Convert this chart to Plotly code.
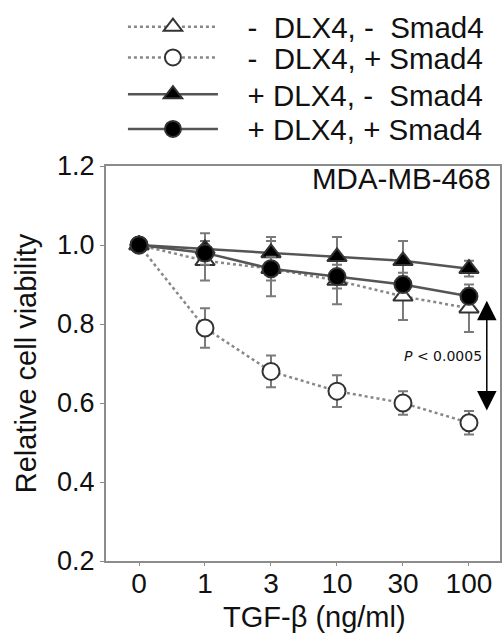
import plotly.graph_objects as go

doses = ["0", "1", "3", "10", "30", "100"]
pad = "\u00a0" * 3
sp2 = "\u00a0\u00a0"
names = [pad + "-" + sp2 + "DLX4, -" + sp2 + "Smad4", pad + "-" + sp2 + "DLX4, + Smad4",
         pad + "+ DLX4, -" + sp2 + "Smad4", pad + "+ DLX4, + Smad4"]
open_tri = [1.0, 0.96, 0.94, 0.91, 0.87, 0.84]
open_tri_err = [0, 0.05, 0.07, 0.06, 0.06, 0.06]
open_circ = [1.0, 0.79, 0.68, 0.63, 0.60, 0.55]
open_circ_err = [0, 0.05, 0.04, 0.04, 0.03, 0.03]
fill_tri = [1.0, 0.99, 0.98, 0.97, 0.96, 0.94]
fill_tri_err = [0, 0.04, 0.04, 0.05, 0.05, 0.02]
fill_circ = [1.0, 0.98, 0.94, 0.92, 0.90, 0.87]
fill_circ_err = [0, 0.02, 0.03, 0.03, 0.02, 0.02]
p_text = "<i>P</i> &lt; 0.0005"
p_top, p_bottom = 0.859, 0.577
cell_line = "MDA-MB-468"
x_title = "TGF-β (ng/ml)"
y_title = "Relative cell viability"

FONT = "Liberation Sans, Arial, sans-serif"
fig = go.Figure()

def add(y, err, name, symbol, fill, dash, lcolor, legend):
    fig.add_trace(go.Scatter(
        x=doses, y=y, name=name, mode="lines+markers", legend=legend,
        line=dict(color=lcolor, width=2.5, dash=dash),
        marker=dict(symbol=symbol, size=17, color=fill,
                    line=dict(color="#333333", width=2)),
        error_y=dict(type="data", array=err, visible=True,
                     color="#7a7a7a", thickness=2, width=5),
    ))

add(open_tri, open_tri_err, names[0], "triangle-up", "white", "dot", "#888888", "legend")
add(open_circ, open_circ_err, names[1], "circle", "white", "dot", "#888888", "legend2")
add(fill_tri, fill_tri_err, names[2], "triangle-up", "black", "solid", "#555555", "legend3")
add(fill_circ, fill_circ_err, names[3], "circle", "black", "solid", "#555555", "legend4")

fig.add_annotation(x=5.27, y=p_top, ax=5.27, ay=p_bottom, xref="x", yref="y",
                   axref="x", ayref="y", text="", showarrow=True,
                   arrowside="end+start", arrowhead=2, startarrowhead=2,
                   arrowsize=2.6, startarrowsize=2.6, arrowwidth=1.5,
                   arrowcolor="black", standoff=0, startstandoff=0)
fig.add_annotation(x=5.22, y=0.72, xref="x", yref="y", text=p_text,
                   showarrow=False, xanchor="right",
                   font=dict(family="DejaVu Sans, sans-serif", size=14, color="#111"))
fig.add_annotation(x=0.982, y=1.168, xref="paper", yref="y", text=cell_line,
                   showarrow=False, xanchor="right", yanchor="middle",
                   font=dict(family=FONT, size=29.5, color="#111"))
fig.add_annotation(x=0.528, y=-0.141, xref="paper", yref="paper", text=x_title,
                   showarrow=False, xanchor="center", yanchor="middle",
                   font=dict(family=FONT, size=29, color="#111"))

row_centers = [1.3518, 1.2739, 1.181, 1.093]
leg_common = dict(x=0.043, xanchor="left", yanchor="middle", itemwidth=90,
                  bgcolor="rgba(0,0,0,0)",
                  font=dict(family=FONT, size=29.5, color="#111"))

fig.update_layout(
    width=503, height=639,
    margin=dict(l=106, r=1, t=163, b=78),
    paper_bgcolor="white", plot_bgcolor="white",
    font=dict(family=FONT, size=27, color="#111"),
    showlegend=True,
    legend=dict(y=row_centers[0], **leg_common),
    legend2=dict(y=row_centers[1], **leg_common),
    legend3=dict(y=row_centers[2], **leg_common),
    legend4=dict(y=row_centers[3], **leg_common),
    xaxis=dict(type="category", range=[-0.5, 5.47], showline=True,
               linecolor="#8c8c8c", linewidth=2, mirror=True,
               ticks="outside", ticklen=3, tickcolor="#8c8c8c", showgrid=False,
               ticklabelstandoff=-7, tickfont=dict(size=28)),
    yaxis=dict(range=[0.2, 1.2], dtick=0.2, tickformat=".1f", showline=True,
               linecolor="#8c8c8c", linewidth=2, mirror=True,
               ticks="outside", ticklen=4, tickcolor="#8c8c8c", showgrid=False,
               zeroline=False,
               title=dict(text=y_title, font=dict(size=29), standoff=12),
               tickfont=dict(size=27)),
)

fig.write_html("out.html", config={"displayModeBar": False},
               post_script="document.body.style.margin='0';document.body.style.overflow='hidden';")
